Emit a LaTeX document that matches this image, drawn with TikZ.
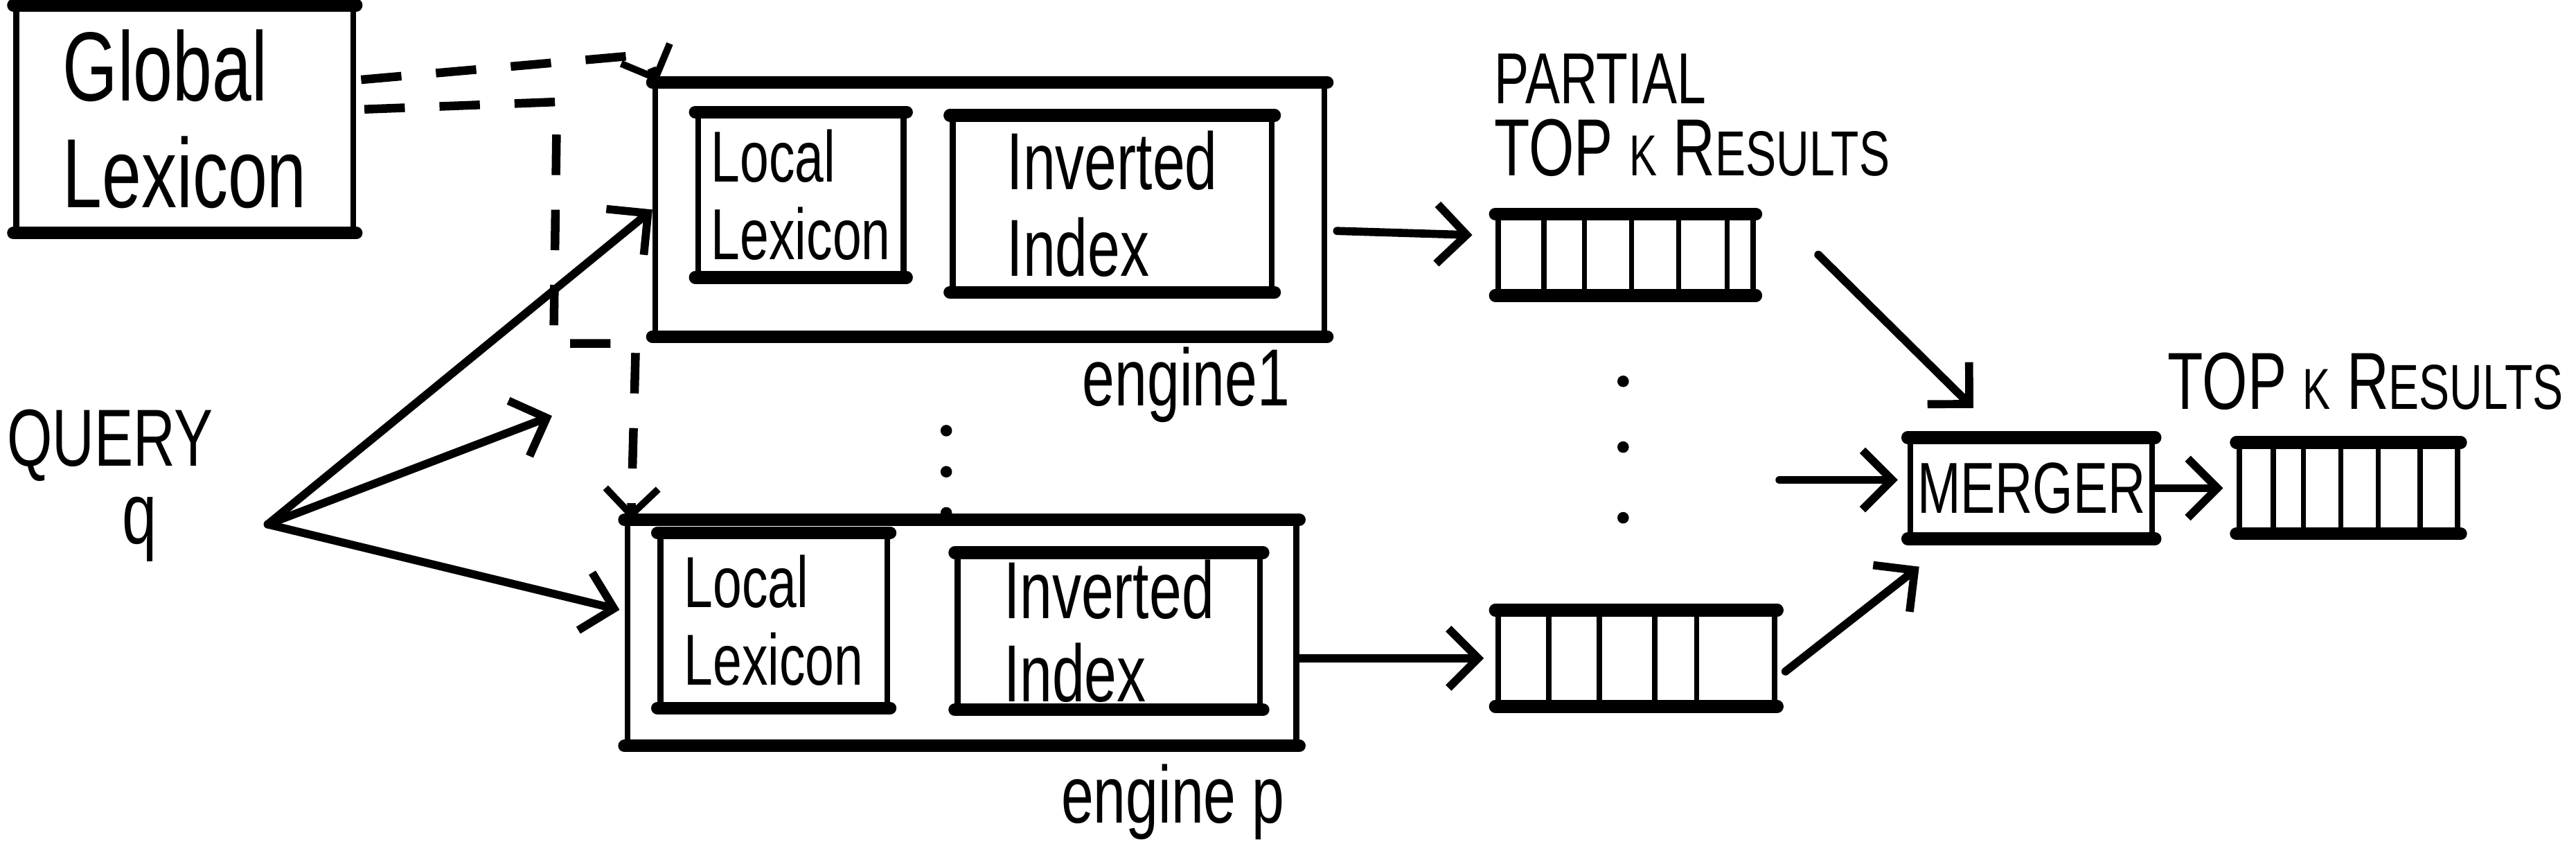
\documentclass[tikz,border=0pt]{standalone}
\usepackage{fontspec}
\newfontfamily\hand[FakeStretch=0.72]{Liberation Sans}
\usetikzlibrary{arrows.meta,calc}
\begin{document}
\begin{tikzpicture}[x=0.01cm,y=-0.01cm,
  box/.style={draw,line width=1pt,inner sep=0pt},
  thk/.style={line width=2.2pt,line cap=round},
  div/.style={line width=0.9pt},
  arr/.style={line width=1.4pt,line cap=round,-{Straight Barb[length=1.8mm,width=3.6mm,line width=1.4pt]}},
  dsh/.style={line width=1.5pt,dash pattern=on 7pt off 6pt,-{Straight Barb[length=1.6mm,width=3.2mm,line width=1.2pt]}},
  lab/.style={inner sep=0pt},
  dotn/.style={circle,fill,inner sep=0pt,minimum size=0.07cm}]
\path[use as bounding box] (0,0) rectangle (1568,512);

% boxes
\node[box,minimum width=2.05cm,minimum height=1.35cm,align=left,font={\hand\fontsize{17}{18.5}\selectfont}] (gl) at (112.5,72.5) {Global\\Lexicon};
\node[box,minimum width=4.07cm,minimum height=1.51cm] (e1) at (602.5,127.5) {};
\node[box,minimum width=1.25cm,minimum height=0.97cm,align=left,font={\hand\fontsize{12.5}{13.5}\selectfont}] (ll1) at (487.5,118.5) {Local\\Lexicon};
\node[box,minimum width=1.94cm,minimum height=1.04cm,align=left,font={\hand\fontsize{14}{15}\selectfont}] (ii1) at (677,124) {Inverted\\Index};
\node[box,minimum width=4.07cm,minimum height=1.34cm] (ep) at (585.5,385) {};
\node[box,minimum width=1.38cm,minimum height=1.03cm,align=left,font={\hand\fontsize{12.5}{13.5}\selectfont}] (ll2) at (471,377.5) {Local\\Lexicon};
\node[box,minimum width=1.84cm,minimum height=0.92cm,align=left,font={\hand\fontsize{14}{14.5}\selectfont}] (ii2) at (675,384) {Inverted\\Index};
\node[box,minimum width=1.55cm,minimum height=0.46cm] (p1) at (989.5,155) {};
\node[box,minimum width=1.68cm,minimum height=0.55cm] (p2) at (996,400.5) {};
\node[box,minimum width=1.47cm,minimum height=0.58cm,font={\hand\fontsize{12.5}{12.5}\selectfont}] (mg) at (1236.5,297) {MERGER};
\node[box,minimum width=1.33cm,minimum height=0.52cm] (fr) at (1429.5,297) {};

\foreach \n in {gl,e1,ll1,ii1,ep,ll2,ii2,mg,p1,p2,fr}{
  \draw[thk] (\n.north west) -- (\n.north east) (\n.south west) -- (\n.south east);
}
\foreach \f in {0.187,0.342,0.523,0.703,0.89}
  \draw[div] ($(p1.north west)!\f!(p1.north east)$) -- ($(p1.south west)!\f!(p1.south east)$);
\foreach \f in {0.19,0.369,0.565,0.714}
  \draw[div] ($(p2.north west)!\f!(p2.north east)$) -- ($(p2.south west)!\f!(p2.south east)$);
\foreach \f in {0.165,0.30,0.466,0.632,0.82}
  \draw[div] ($(fr.north west)!\f!(fr.north east)$) -- ($(fr.south west)!\f!(fr.south east)$);

% labels
\node[lab,font={\hand\fontsize{14}{14}\selectfont}] (qlab) at (67,271) {QUERY};
\node[lab,font={\hand\fontsize{15}{15}\selectfont}] (qq) at (85,322) {q};
\node[lab,font={\hand\fontsize{14}{14}\selectfont}] (e1lab) at (722,234) {engine1};
\node[lab,font={\hand\fontsize{14}{14}\selectfont}] (eplab) at (714,488) {engine p};
\node[lab,align=left,font={\hand\fontsize{12.5}{12.5}\selectfont}] (plab) at (1030,70) {PARTIAL\\{\fontsize{14}{14}\selectfont TOP {\fontsize{10}{10}\selectfont K} R{\fontsize{11}{11}\selectfont ESULTS}}};
\node[lab,font={\hand\fontsize{14}{14}\selectfont}] (flab) at (1440,232) {TOP {\fontsize{10}{10}\selectfont K} R{\fontsize{11}{11}\selectfont ESULTS}};

% dots
\node[dotn] (d1) at (576,262) {};
\node[dotn] (d2) at (576,287) {};
\node[dotn] (d3) at (576,312) {};
\node[dotn] (d4) at (988,232) {};
\node[dotn] (d5) at (988,272) {};
\node[dotn] (d6) at (988,315) {};

% query arrows
\coordinate (qo) at (163,319);
\coordinate (qm) at (336,253);
\draw[arr] (qo) -- (e1.west);
\draw[arr] (qo) -- (qm);
\draw[arr] (qo) -- ($(ep.west)+(-3,-14)$);

% dashed global lexicon links
\coordinate (c1) at (339,62);
\coordinate (c2) at (337,209);
\coordinate (c3) at (387,209);
\draw[dsh] ($(gl.east)+(3,-24)$) -- ($(e1.north west)+(-4,-17)$) -- ($(e1.north west)+(3,0)$);
\draw[dsh] ($(gl.east)+(5,-6)$) -- (c1) -- (c2) -- (c3) -- ($(ep.north west)+(4,0)$);

% result arrows
\draw[arr] ($(e1.east)+(6,13)$) -- ($(p1.west)+(-14,-12)$);
\draw[arr] (ep.east |- p2.west) -- ($(p2.west)+(-7,0)$);
\draw[arr] ($(p1.east)+(38,0)$) -- ($(mg.north west)+(40,-18)$);
\draw[arr] ($(mg.west)+(-78,-5)$) -- ($(mg.west)+(-6,-5)$);
\draw[arr] ($(p2.east)+(5,8)$) -- ($(mg.south west)+(7,17)$);
\draw[arr] (mg.east) -- ($(fr.west)+(-8,0)$);
\end{tikzpicture}
\end{document}
